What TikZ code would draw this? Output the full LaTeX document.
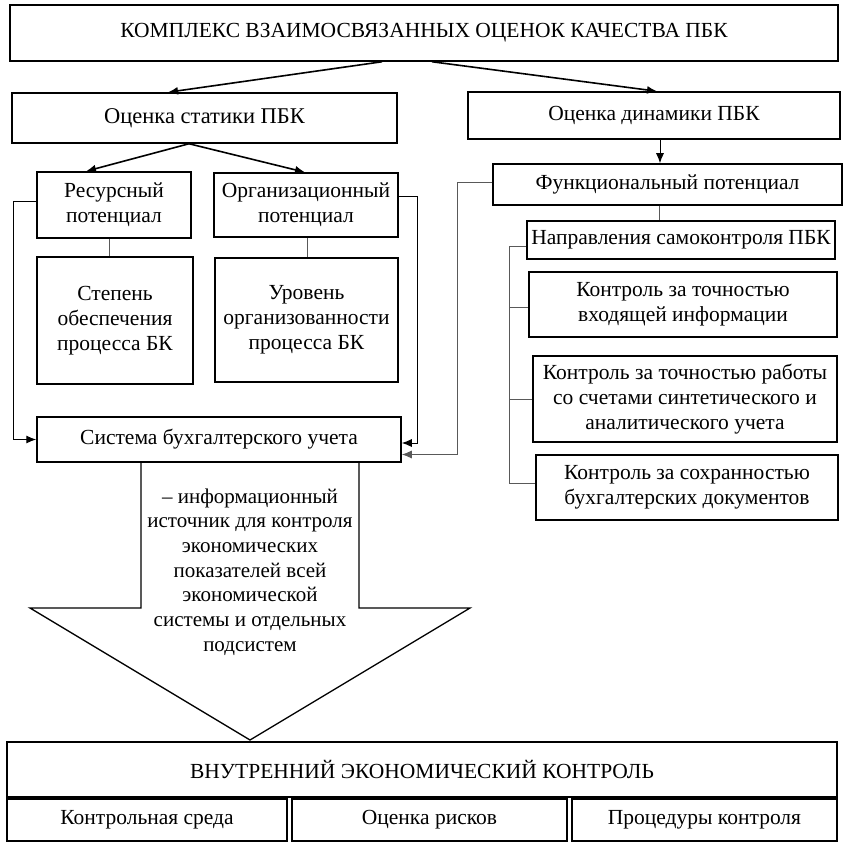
\documentclass[tikz,border=0pt]{standalone}
\usepackage{fontspec}
\setmainfont{Liberation Serif}
\usetikzlibrary{arrows.meta,calc}
\begin{document}
\begin{tikzpicture}[x=1pt,y=-1pt,
  box/.style={draw,line width=1.5pt,inner sep=0pt,align=center,font=\fontsize{21.5}{25}\selectfont},
  arr/.style={line width=1.6pt,-{Latex[length=10pt,width=8pt]}},
  farr/.style={line width=1pt,-{Latex[length=10pt,width=8pt]}},
  conn/.style={line width=1pt,draw=black!65}]
\useasboundingbox (0,0) rectangle (847,850);
\node[box,minimum width=828,minimum height=56] (top) at (424,33) {КОМПЛЕКС ВЗАИМОСВЯЗАННЫХ ОЦЕНОК КАЧЕСТВА ПБК};
\node[box,minimum width=385,minimum height=50,font=\fontsize{22.5}{26}\selectfont] (stat) at (204.5,118) {Оценка статики ПБК};
\node[box,minimum width=372,minimum height=47] (dyn) at (654,115.5) {Оценка динамики ПБК};
\node[box,minimum width=154,minimum height=66] (res) at (114,205) {Ресурсный\\потенциал};
\node[box,minimum width=184,minimum height=64] (org) at (306,205) {Организационный\\потенциал};
\node[box,minimum width=156,minimum height=127] (stp) at (115,320.5) {Степень\\обеспечения\\процесса БК};
\node[box,minimum width=183,minimum height=124] (urov) at (306.5,320) {Уровень\\организованности\\процесса БК};
\node[box,minimum width=364,minimum height=45] (sys) at (219,439.5) {Система бухгалтерского учета};
\node[box,minimum width=349,minimum height=41] (func) at (667.5,184.5) {Функциональный потенциал};
\node[box,minimum width=308,minimum height=38] (napr) at (681,240) {Направления самоконтроля ПБК};
\node[box,minimum width=308,minimum height=65] (ka) at (683,304.5) {Контроль за точностью\\входящей информации};
\node[box,minimum width=304,minimum height=86] (kb) at (685,399) {Контроль за точностью работы\\со счетами синтетического и\\аналитического учета};
\node[box,minimum width=302,minimum height=65] (kc) at (687,487.5) {Контроль за сохранностью\\бухгалтерских документов};
\node[box,minimum width=830,minimum height=55] (vek) at (422,769.5) {ВНУТРЕННИЙ ЭКОНОМИЧЕСКИЙ КОНТРОЛЬ};
\node[box,minimum width=280,minimum height=42] (ba) at (147,820) {Контрольная среда};
\node[box,minimum width=275,minimum height=42] (bb) at (429.5,820) {Оценка рисков};
\node[box,minimum width=265,minimum height=42] (bc) at (704.5,820) {Процедуры контроля};
% arrows from top
\draw[arr] ([xshift=-42pt]top.south) -- ([xshift=-36.5pt]stat.north);
\draw[arr] ([xshift=8pt]top.south) -- ([xshift=3pt]dyn.north);
\draw[arr] ([xshift=-15.5pt]stat.south) -- ([xshift=-28pt]res.north);
\draw[arr] ([xshift=-15.5pt]stat.south) -- ([xshift=-1pt]org.north);
\draw[farr] ([xshift=6pt]dyn.south) -- ([xshift=6pt]dyn.south |- func.north);
\draw[conn] ([xshift=-5pt]res.south) -- ([xshift=-5pt]res.south |- stp.north);
\draw[conn] ([xshift=1pt]org.south) -- ([xshift=1pt]org.south |- urov.north);
\draw[farr] ([yshift=3pt]res.west) -- ++(-23,0) |- (sys.west);
\draw[farr] ([yshift=8pt]org.east) -- ++(19,0) |- ([yshift=-3.5pt]sys.east);
\draw[conn,-{Latex[length=10pt,width=8pt]}] ([yshift=2pt]func.west) -- ++(-35,0) |- ([yshift=-15pt]sys.east);
\draw[conn] ([xshift=-8.5pt]func.south) -- ([xshift=-8.5pt]func.south |- napr.north);
\coordinate (bx) at (509,0);
\draw[conn] ([yshift=-6pt]napr.west) -| ($(bx |- kc.west)+(0,-4)$) -- ([yshift=4pt]kc.west);
\draw[conn] ($(bx |- ka.west)+(0,2.5)$) -- ([yshift=-2.5pt]ka.west);
\draw[conn] (bx |- kb.west) -- (kb.west);
% big arrow
\draw[line width=1.3pt] (141,462) -- (141,608) -- (30,608) -- (250,740) -- (470,608) -- (359,608) -- (359,462);
\node[align=center,inner sep=0pt,font=\fontsize{21}{24.7}\selectfont] (atext) at (250,572) {– информационный\\источник для контроля\\экономических\\показателей всей\\экономической\\системы и отдельных\\подсистем};
\end{tikzpicture}
\end{document}
